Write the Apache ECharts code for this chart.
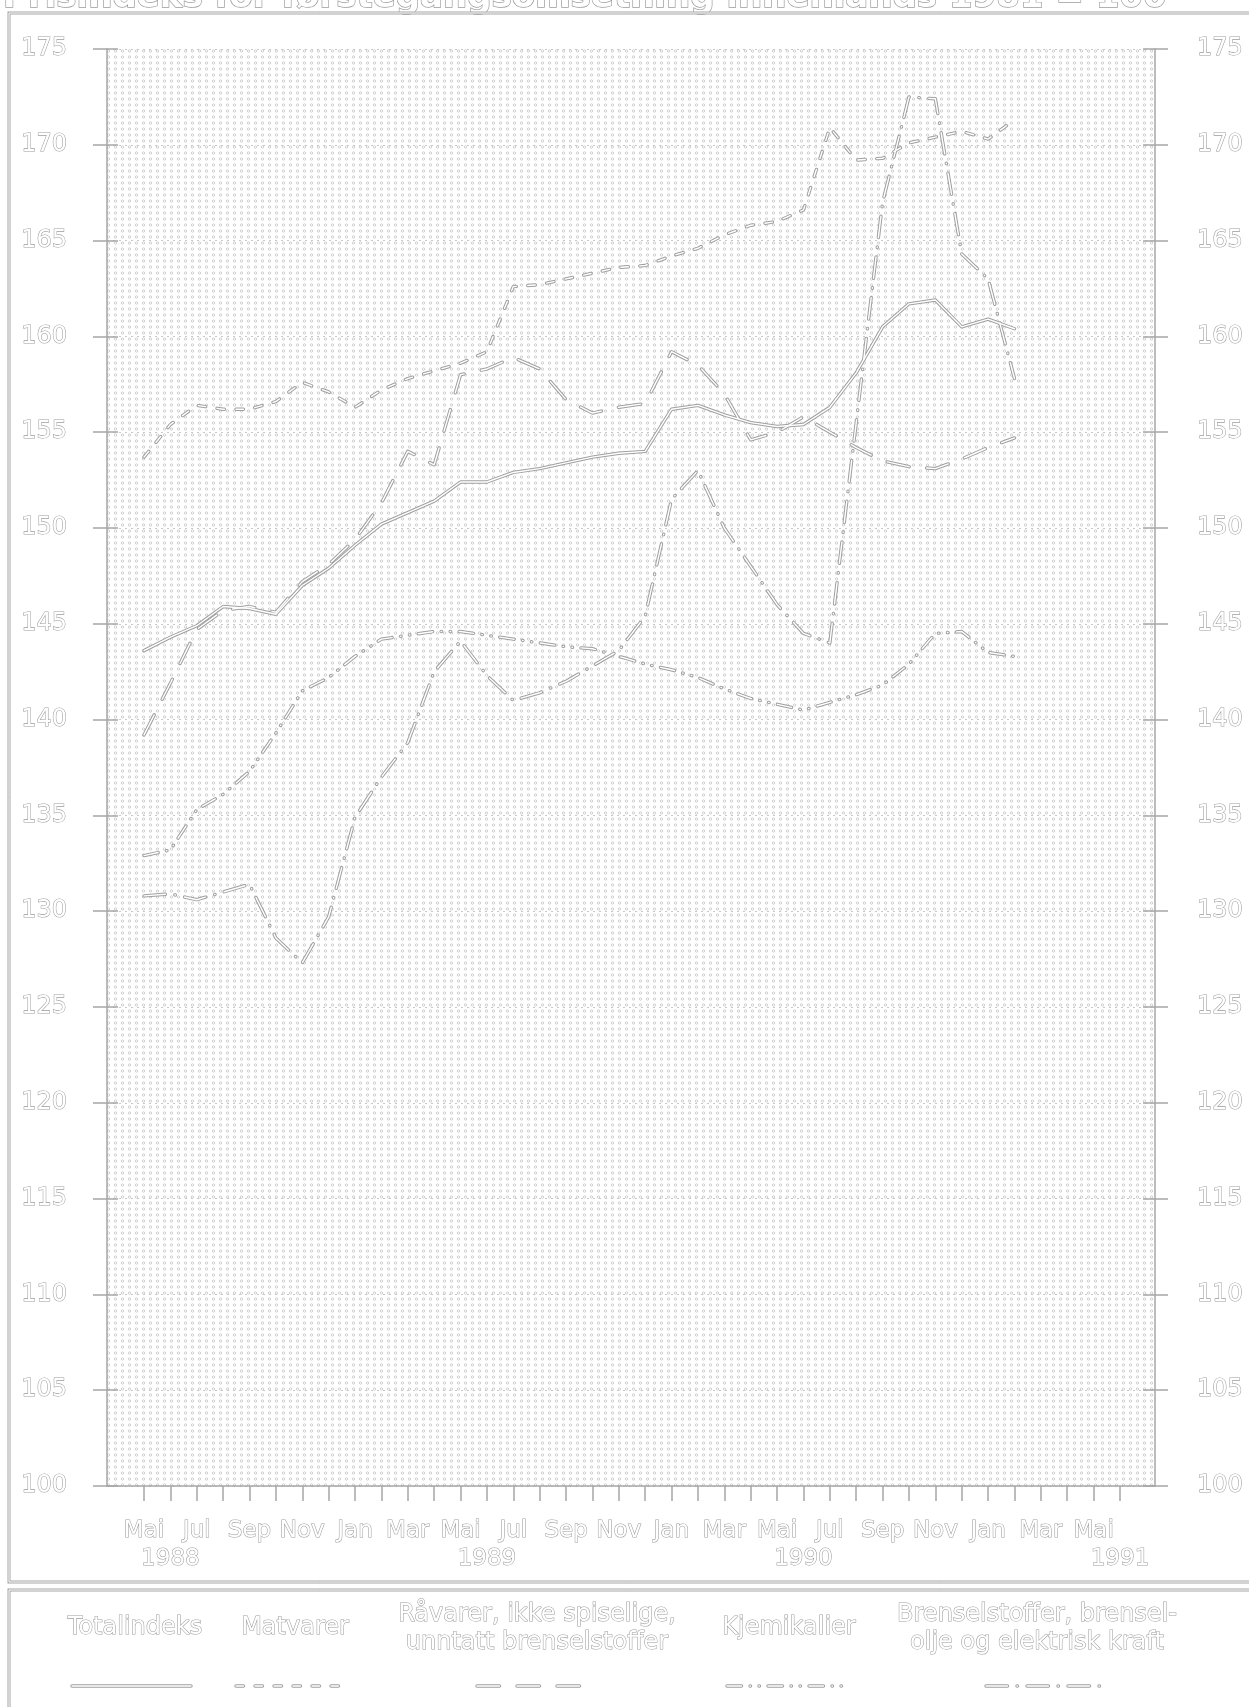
<!DOCTYPE html>
<html>
<head>
<meta charset="utf-8">
<script src="https://cdn.jsdelivr.net/npm/echarts@6/dist/echarts.min.js"></script>
<style>
html,body{margin:0;padding:0;background:#ffffff;}
#chart{width:1249px;height:1707px;}
</style>
</head>
<body>
<div id="chart"></div>
<script>
// ---------------- DATA ----------------
const titleText = 'Prisindeks for førstegangsomsetning innenlands 1981 = 100';

const categories = ['1988-05','1988-06','1988-07','1988-08','1988-09','1988-10','1988-11','1988-12',
  '1989-01','1989-02','1989-03','1989-04','1989-05','1989-06','1989-07','1989-08','1989-09','1989-10','1989-11','1989-12',
  '1990-01','1990-02','1990-03','1990-04','1990-05','1990-06','1990-07','1990-08','1990-09','1990-10','1990-11','1990-12',
  '1991-01','1991-02','1991-03','1991-04','1991-05','1991-06'];

const monthTicks = ['Mai','','Jul','','Sep','','Nov','','Jan','','Mar','',
  'Mai','','Jul','','Sep','','Nov','','Jan','','Mar','',
  'Mai','','Jul','','Sep','','Nov','','Jan','','Mar','',
  'Mai',''];
const yearTicks = ['','1988','','','','','','','','','','',
  '','1989','','','','','','','','','','',
  '','1990','','','','','','','','','','',
  '','1991'];

const yMin = 100, yMax = 175, yStep = 5;

const totalindeks = [143.6,144.3,144.9,145.9,145.8,145.5,147.0,147.9,149.1,150.2,150.8,151.4,152.4,152.4,152.9,153.1,153.4,153.7,153.9,154.0,156.2,156.4,155.9,155.5,155.3,155.4,156.3,158.1,160.5,161.7,161.9,160.5,160.9,160.4];
const matvarer    = [153.7,155.4,156.4,156.2,156.2,156.6,157.6,157.1,156.3,157.2,157.8,158.2,158.6,159.2,162.6,162.7,163.0,163.3,163.6,163.7,164.2,164.6,165.3,165.8,166.0,166.6,170.9,169.2,169.3,170.1,170.4,170.7,170.3,171.3];
const raavarer    = [139.2,141.9,144.7,145.7,145.9,145.6,147.2,148.1,149.4,151.3,154.0,153.3,158.0,158.3,158.9,158.3,156.7,156.0,156.3,156.5,159.2,158.5,157.0,154.6,155.0,155.8,155.0,154.2,153.5,153.2,153.1,153.6,154.2,154.7];
const kjemikalier = [132.9,133.2,135.3,136.1,137.3,139.3,141.5,142.2,143.3,144.2,144.4,144.6,144.6,144.4,144.2,144.0,143.8,143.7,143.3,142.9,142.6,142.2,141.6,141.1,140.8,140.5,140.9,141.3,141.8,142.9,144.5,144.6,143.5,143.3];
const brensel     = [130.8,130.9,130.6,131.0,131.4,128.6,127.3,129.7,134.9,137.0,138.8,142.5,144.1,142.3,141.0,141.4,142.0,142.8,143.6,145.4,151.5,153.0,150.0,148.0,146.0,144.5,144.0,155.5,167.0,172.5,172.4,164.3,163.0,157.8];

const seriesNames = ['Totalindeks','Matvarer','Råvarer, ikke spiselige, unntatt brenselstoffer','Kjemikalier','Brenselstoffer, brenselolje og elektrisk kraft'];
const legendLines = [['Totalindeks'],['Matvarer'],['Råvarer, ikke spiselige,','unntatt brenselstoffer'],['Kjemikalier'],['Brenselstoffer, brensel-','olje og elektrisk kraft']];

// ---------------- STYLE ----------------
const GRAY = '#a6a6a6';
const FONT = '"DejaVu Sans", sans-serif';
const dashes = ['solid', [7.5, 11.5], [22.5, 17.5], [14.5, 8.5, 0.5, 8.5, 0.5, 8.5], [21.5, 9.5, 0.5, 9.5]];
const seriesData = [totalindeks, matvarer, raavarer, kjemikalier, brensel];

const outlineText = {
  color: '#ffffff', textBorderColor: '#9c9c9c', textBorderWidth: 1.1,
  fontFamily: FONT
};

// dotted background texture
const tile = document.createElement('canvas');
tile.width = 7; tile.height = 6;
(function(){
  const c = tile.getContext('2d');
  c.fillStyle = '#ffffff'; c.fillRect(0,0,7,6);
  c.strokeStyle = '#bdbdbd'; c.lineWidth = 0.7;
  c.beginPath(); c.arc(3.5, 3, 1.2, 0, Math.PI*2); c.stroke();
})();

const chart = echarts.init(document.getElementById('chart'), null, {renderer: 'canvas'});

function yAxisDef(pos, showLabel, tickInside, tickLen, margin, showLine, split) {
  return {
    type: 'value', gridIndex: 0, position: pos, min: yMin, max: yMax, interval: yStep,
    axisLine: {show: showLine, lineStyle: {color: GRAY, width: 1.5}},
    axisTick: {show: true, inside: tickInside, length: tickLen, lineStyle: {color: GRAY, width: 1.5}},
    axisLabel: Object.assign({show: showLabel, margin: margin, fontSize: 24}, outlineText),
    splitLine: {show: split, lineStyle: {color: '#c8c8c8', type: [2, 4], width: 1}}
  };
}

const series = [];
seriesData.forEach((d, i) => {
  series.push({
    name: seriesNames[i], type: 'line', xAxisIndex: 1, yAxisIndex: 4, data: d,
    showSymbol: false, symbol: 'none', z: 2, silent: true,
    lineStyle: {color: '#a0a0a0', width: 3.4, type: dashes[i], cap: 'round', join: 'round'}
  });
});
seriesData.forEach((d, i) => {
  series.push({
    name: seriesNames[i] + ' ', type: 'line', xAxisIndex: 1, yAxisIndex: 4, data: d,
    showSymbol: false, symbol: 'none', z: 3, silent: true,
    lineStyle: {color: '#ffffff', width: 1.4, type: dashes[i], cap: 'round', join: 'round'}
  });
});

// legend & frame drawn as graphic
const legendX = [135, 295, 537, 789, 1037];
const legendSym = [[72,191],[236,350],[477,584],[727,847],[986,1105]];
const graphics = [];
function frameRect(x, y, w, h) {
  graphics.push({type:'rect', shape:{x:x,y:y,width:w,height:h}, style:{fill:'none', stroke:GRAY, lineWidth:3}, z:10, silent:true});
  graphics.push({type:'rect', shape:{x:x,y:y,width:w,height:h}, style:{fill:'none', stroke:'#ffffff', lineWidth:1}, z:11, silent:true});
}
frameRect(9, 13, 1262, 1569);
frameRect(9, 1590, 1262, 200);

legendLines.forEach((lines, i) => {
  const cy = lines.length === 1 ? [1628] : [1615, 1643];
  lines.forEach((t, k) => {
    graphics.push({type:'text', x: legendX[i], y: cy[k], silent:true, z:12,
      style:{text:t, font:'24px ' + FONT, fill:'#ffffff', stroke:'#9c9c9c', lineWidth:1.1, textAlign:'center', textVerticalAlign:'middle'}});
  });
  const ld = dashes[i] === 'solid' ? null : dashes[i];
  graphics.push({type:'line', shape:{x1:legendSym[i][0], y1:1686, x2:legendSym[i][1], y2:1686}, silent:true, z:12,
    style:{stroke:'#a0a0a0', lineWidth:3.4, lineDash:ld, lineCap:'round'}});
  graphics.push({type:'line', shape:{x1:legendSym[i][0], y1:1686, x2:legendSym[i][1], y2:1686}, silent:true, z:13,
    style:{stroke:'#ffffff', lineWidth:1.4, lineDash:ld, lineCap:'round'}});
});

chart.setOption({
  backgroundColor: '#ffffff',
  animation: false,
  title: {
    text: titleText, left: -2, top: -24,
    textStyle: Object.assign({fontSize: 34, fontWeight: 'bold'}, outlineText, {textBorderWidth: 1.4})
  },
  grid: [
    {left: 107, right: 94, top: 49, bottom: 221, show: true, borderWidth: 0,
     backgroundColor: {image: tile, repeat: 'repeat'}},
    {left: 144, right: 129, top: 49, bottom: 221}
  ],
  xAxis: [
    {type: 'value', gridIndex: 0, min: 0, max: 1, axisLine: {show: true, onZero: false, lineStyle: {color: GRAY, width: 1.5}},
     axisTick: {show: false}, axisLabel: {show: false}, splitLine: {show: false}},
    {type: 'category', gridIndex: 1, data: categories, boundaryGap: false,
     axisLine: {show: false},
     axisTick: {show: true, interval: 0, length: 15, lineStyle: {color: GRAY, width: 1.5}},
     axisLabel: Object.assign({interval: 0, margin: 31, lineHeight: 28, fontSize: 23, hideOverlap: false,
       formatter: function (v, i) { return monthTicks[i] ? monthTicks[i] : (yearTicks[i] ? '\n' + yearTicks[i] : ''); }}, outlineText),
     splitLine: {show: false}}
  ],
  yAxis: [
    yAxisDef('left', true, false, 14, 40, true, true),
    yAxisDef('left', false, true, 11, 8, false, false),
    yAxisDef('right', true, false, 13, 42, true, false),
    yAxisDef('right', false, true, 12, 8, false, false),
    {type: 'value', gridIndex: 1, min: yMin, max: yMax, show: false}
  ],
  graphic: graphics,
  series: series
});
</script>
</body>
</html>
